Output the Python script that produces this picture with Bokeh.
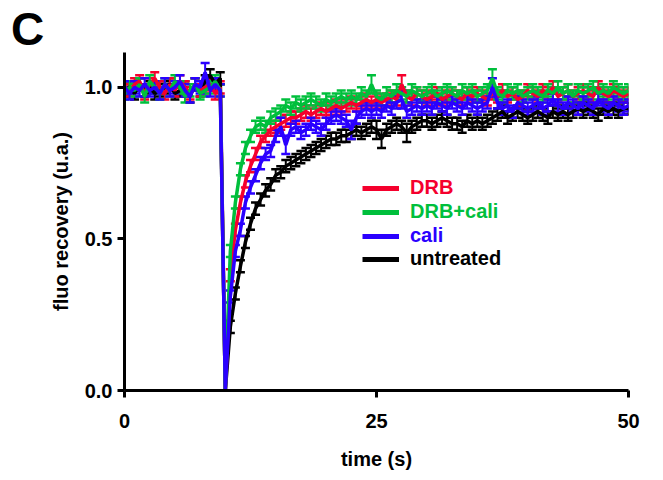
from bokeh.plotting import figure
from bokeh.layouts import column
from bokeh.models import (ColumnDataSource, Whisker, TeeHead, Range1d, FixedTicker,
                          NumeralTickFormatter, Legend, LegendItem, Div)
from bokeh.embed import file_html
from bokeh.resources import INLINE

# ---------------- data ----------------
time_s = [i * 0.5 for i in range(101)]  # 0 .. 50 s, 0.5 s frames

untreated = [
    0.99, 1.00, 0.98, 1.01, 0.99, 1.00, 0.98, 0.99, 1.00, 1.01,
    0.98, 0.99, 1.00, 0.97, 1.01, 0.99, 1.02, 1.04, 1.01, 1.03,
    0.00,
    0.21, 0.32, 0.41, 0.49, 0.55, 0.60, 0.63, 0.66, 0.68, 0.71,
    0.72, 0.74, 0.75, 0.76, 0.77, 0.78, 0.79, 0.80, 0.81, 0.82,
    0.83, 0.83, 0.84, 0.84, 0.85, 0.86, 0.85, 0.86, 0.87, 0.86,
    0.83, 0.86, 0.87, 0.88, 0.87, 0.85, 0.87, 0.88, 0.89, 0.89,
    0.88, 0.89, 0.90, 0.89, 0.88, 0.88, 0.87, 0.89, 0.88, 0.89,
    0.88, 0.89, 0.90, 0.91, 0.92, 0.90, 0.91, 0.92, 0.91, 0.90,
    0.91, 0.92, 0.91, 0.90, 0.92, 0.91, 0.92, 0.91, 0.92, 0.93,
    0.92, 0.93, 0.92, 0.91, 0.93, 0.92, 0.93, 0.92, 0.93, 0.93,
]
untreated_err = [
    0.02, 0.02, 0.02, 0.02, 0.02, 0.02, 0.02, 0.02, 0.02, 0.02,
    0.02, 0.02, 0.02, 0.02, 0.02, 0.02, 0.02, 0.02, 0.02, 0.02,
    0.00,
    0.02, 0.02, 0.02, 0.02, 0.02, 0.02, 0.02, 0.02, 0.02, 0.02,
    0.02, 0.02, 0.02, 0.02, 0.02, 0.02, 0.02, 0.02, 0.02, 0.02,
    0.02, 0.02, 0.02, 0.02, 0.02, 0.02, 0.02, 0.02, 0.02, 0.03,
    0.03, 0.02, 0.02, 0.02, 0.02, 0.03, 0.02, 0.02, 0.02, 0.02,
    0.02, 0.02, 0.02, 0.02, 0.02, 0.02, 0.02, 0.02, 0.02, 0.02,
    0.02, 0.02, 0.02, 0.02, 0.02, 0.02, 0.02, 0.02, 0.02, 0.02,
    0.02, 0.02, 0.02, 0.02, 0.02, 0.02, 0.02, 0.02, 0.02, 0.02,
    0.02, 0.02, 0.02, 0.02, 0.02, 0.02, 0.02, 0.02, 0.02, 0.02,
]

drb = [
    1.00, 0.99, 1.01, 1.02, 0.98, 1.01, 1.03, 1.00, 0.98, 1.01,
    0.99, 1.02, 1.00, 0.98, 1.01, 0.99, 1.00, 1.01, 0.98, 1.00,
    0.00,
    0.38, 0.53, 0.62, 0.69, 0.74, 0.78, 0.82, 0.84, 0.86, 0.87,
    0.88, 0.89, 0.90, 0.90, 0.91, 0.92, 0.91, 0.92, 0.93, 0.92,
    0.93, 0.94, 0.93, 0.94, 0.95, 0.94, 0.95, 0.96, 0.95, 0.96,
    0.95, 0.96, 0.97, 0.96, 1.01, 0.97, 0.96, 0.98, 0.97, 0.96,
    0.97, 0.98, 0.96, 0.97, 0.98, 0.97, 0.96, 0.98, 0.97, 0.98,
    0.97, 0.96, 0.98, 0.97, 0.99, 0.97, 0.98, 0.96, 0.97, 0.99,
    0.98, 0.97, 0.99, 0.98, 1.00, 0.97, 0.98, 0.99, 0.97, 0.98,
    0.99, 0.98, 0.97, 1.00, 0.98, 0.97, 0.99, 0.98, 0.97, 0.98,
]
drb_err = [
    0.02, 0.02, 0.02, 0.02, 0.02, 0.02, 0.02, 0.02, 0.02, 0.02,
    0.02, 0.02, 0.02, 0.02, 0.02, 0.02, 0.02, 0.02, 0.02, 0.02,
    0.00,
    0.02, 0.02, 0.02, 0.02, 0.02, 0.02, 0.02, 0.02, 0.02, 0.02,
    0.02, 0.02, 0.02, 0.02, 0.02, 0.02, 0.02, 0.02, 0.02, 0.02,
    0.02, 0.02, 0.02, 0.02, 0.02, 0.02, 0.02, 0.02, 0.02, 0.02,
    0.02, 0.02, 0.02, 0.02, 0.03, 0.02, 0.02, 0.02, 0.02, 0.02,
    0.02, 0.02, 0.02, 0.02, 0.02, 0.02, 0.02, 0.02, 0.02, 0.02,
    0.02, 0.02, 0.02, 0.02, 0.02, 0.02, 0.02, 0.02, 0.02, 0.02,
    0.02, 0.02, 0.02, 0.02, 0.02, 0.02, 0.02, 0.02, 0.02, 0.02,
    0.02, 0.02, 0.02, 0.02, 0.02, 0.02, 0.02, 0.02, 0.02, 0.02,
]

drb_cali = [
    0.98, 1.00, 0.99, 1.01, 0.97, 1.02, 1.00, 0.98, 1.01, 0.99,
    1.02, 1.00, 0.97, 0.99, 1.01, 0.98, 0.99, 1.00, 1.02, 0.99,
    0.00,
    0.46, 0.62, 0.73, 0.80, 0.84, 0.87, 0.88, 0.87, 0.90, 0.91,
    0.92, 0.94, 0.93, 0.95, 0.94, 0.95, 0.96, 0.95, 0.94, 0.96,
    0.95, 0.96, 0.97, 0.96, 0.97, 0.96, 0.98, 0.97, 1.01, 0.97,
    0.96, 0.98, 0.97, 0.99, 0.98, 0.97, 0.99, 0.98, 0.97, 0.98,
    0.99, 0.97, 0.98, 0.99, 0.98, 0.97, 0.99, 0.98, 0.99, 0.97,
    0.98, 0.99, 1.03, 0.98, 0.97, 0.99, 0.98, 0.99, 0.97, 0.98,
    0.99, 0.98, 0.97, 0.99, 0.98, 1.00, 0.98, 0.99, 0.97, 0.99,
    0.98, 0.99, 1.00, 0.98, 0.99, 0.98, 1.00, 0.99, 0.98, 0.99,
]
drb_cali_err = [
    0.02, 0.02, 0.02, 0.02, 0.02, 0.02, 0.02, 0.02, 0.02, 0.02,
    0.02, 0.02, 0.02, 0.02, 0.02, 0.02, 0.02, 0.02, 0.02, 0.02,
    0.00,
    0.02, 0.02, 0.02, 0.02, 0.02, 0.02, 0.02, 0.02, 0.02, 0.02,
    0.02, 0.02, 0.02, 0.02, 0.02, 0.02, 0.02, 0.02, 0.02, 0.02,
    0.02, 0.02, 0.02, 0.02, 0.02, 0.02, 0.02, 0.02, 0.03, 0.02,
    0.02, 0.02, 0.02, 0.02, 0.02, 0.02, 0.02, 0.02, 0.02, 0.02,
    0.02, 0.02, 0.02, 0.02, 0.02, 0.02, 0.02, 0.02, 0.02, 0.02,
    0.02, 0.02, 0.03, 0.02, 0.02, 0.02, 0.02, 0.02, 0.02, 0.02,
    0.02, 0.02, 0.02, 0.02, 0.02, 0.02, 0.02, 0.02, 0.02, 0.02,
    0.02, 0.02, 0.02, 0.02, 0.02, 0.02, 0.02, 0.02, 0.02, 0.02,
]

cali = [
    1.00, 0.98, 1.00, 0.99, 1.01, 0.99, 1.00, 0.98, 1.01, 0.99,
    1.00, 1.02, 0.99, 0.97, 1.01, 1.00, 1.05, 0.99, 1.01, 0.99,
    0.00,
    0.31, 0.46, 0.53, 0.62, 0.67, 0.71, 0.75, 0.78, 0.79, 0.84,
    0.87, 0.81, 0.86, 0.87, 0.85, 0.86, 0.88, 0.87, 0.86, 0.88,
    0.90, 0.91, 0.90, 0.89, 0.86, 0.90, 0.92, 0.93, 0.92, 0.93,
    0.92, 0.94, 0.93, 0.95, 0.96, 0.92, 0.93, 0.94, 0.93, 0.94,
    0.93, 0.95, 0.94, 0.93, 0.95, 0.94, 0.93, 0.95, 0.94, 0.93,
    0.94, 0.95, 1.00, 0.95, 0.93, 0.94, 0.92, 0.95, 0.94, 0.93,
    0.94, 0.95, 0.93, 0.94, 0.96, 0.94, 0.93, 0.95, 0.94, 0.93,
    0.95, 0.94, 0.93, 0.96, 0.94, 0.93, 0.95, 0.94, 0.93, 0.94,
]
cali_err = [
    0.02, 0.02, 0.02, 0.02, 0.02, 0.02, 0.02, 0.02, 0.02, 0.02,
    0.02, 0.02, 0.02, 0.02, 0.02, 0.02, 0.03, 0.02, 0.02, 0.02,
    0.00,
    0.02, 0.02, 0.02, 0.02, 0.02, 0.02, 0.02, 0.02, 0.02, 0.02,
    0.03, 0.03, 0.02, 0.02, 0.02, 0.02, 0.02, 0.02, 0.02, 0.02,
    0.02, 0.02, 0.02, 0.02, 0.03, 0.02, 0.02, 0.02, 0.02, 0.02,
    0.02, 0.02, 0.02, 0.02, 0.03, 0.02, 0.02, 0.02, 0.02, 0.02,
    0.02, 0.02, 0.02, 0.02, 0.02, 0.02, 0.02, 0.02, 0.02, 0.02,
    0.02, 0.02, 0.03, 0.02, 0.02, 0.02, 0.02, 0.02, 0.02, 0.02,
    0.02, 0.02, 0.02, 0.02, 0.02, 0.02, 0.02, 0.02, 0.02, 0.02,
    0.02, 0.02, 0.02, 0.02, 0.02, 0.02, 0.02, 0.02, 0.02, 0.02,
]

series_names = ["DRB", "DRB+cali", "cali", "untreated"]
x_ticks = [0, 25, 50]
y_ticks = [0.0, 0.5, 1.0]

# ---------------- styling ----------------
FONT = "Liberation Sans"
colors = {"DRB": "#f5002d", "DRB+cali": "#00bf3c", "cali": "#2a00ff", "untreated": "#000000"}
values = {"DRB": (drb, drb_err), "DRB+cali": (drb_cali, drb_cali_err),
          "cali": (cali, cali_err), "untreated": (untreated, untreated_err)}

p = figure(width=663, height=420, output_backend="svg", toolbar_location=None,
           x_range=Range1d(0, 50), y_range=Range1d(0, 1.115),
           min_border_left=124, min_border_right=35, min_border_top=0, min_border_bottom=80)
p.outline_line_color = None
p.grid.visible = False
p.background_fill_color = "white"

for ax in (p.xaxis[0], p.yaxis[0]):
    ax.axis_line_width = 3
    ax.major_tick_line_width = 3
    ax.major_tick_out = 7
    ax.major_tick_in = 0
    ax.minor_tick_line_color = None
    ax.major_label_text_font = FONT
    ax.major_label_text_font_style = "bold"
    ax.major_label_text_font_size = "20px"
    ax.major_label_text_color = "black"
    ax.axis_label_text_font = FONT
    ax.axis_label_text_font_style = "bold"
    ax.axis_label_text_font_size = "20px"
    ax.axis_label_text_color = "black"

p.xaxis.ticker = FixedTicker(ticks=x_ticks)
p.yaxis.ticker = FixedTicker(ticks=y_ticks)
p.yaxis.formatter = NumeralTickFormatter(format="0.0")
p.xaxis.axis_label = "time (s)"
p.yaxis.axis_label = "fluo recovery (u.a.)"
p.xaxis.major_label_standoff = 16
p.yaxis.major_label_standoff = 5
p.xaxis.axis_label_standoff = 17
p.yaxis.axis_label_standoff = 10

nan = float("nan")
sources = {}
draw_order = ["untreated", "DRB", "DRB+cali", "cali"]
for name in draw_order:
    vals, errs = values[name]
    src = ColumnDataSource(dict(
        t=time_s, v=vals,
        hi=[a + b if b > 0 else nan for a, b in zip(vals, errs)],
        lo=[a - b if b > 0 else nan for a, b in zip(vals, errs)],
    ))
    sources[name] = src
    c = colors[name]
    p.line("t", "v", source=src, line_color=c, line_width=3.5)
    w = Whisker(base="t", upper="hi", lower="lo", source=src, dimension="height",
                line_color=c, line_width=2,
                upper_head=TeeHead(size=9, line_color=c, line_width=2.5),
                lower_head=TeeHead(size=9, line_color=c, line_width=2.5))
    p.add_layout(w)

# legends: one per entry so each label takes its series colour.
# Each entry uses a hidden, thicker copy of its series line as legend glyph.
leg_y = {"DRB": 191, "DRB+cali": 167, "cali": 143, "untreated": 120}
for name in series_names:
    c = colors[name]
    proxy = p.line("t", "v", source=sources[name], line_color=c, line_width=5,
                   visible=False)
    lg = Legend(items=[LegendItem(label=name, renderers=[proxy])],
                location=(238, leg_y[name]), orientation="vertical",
                padding=0, margin=0, spacing=0,
                glyph_width=37, glyph_height=20, label_standoff=11,
                label_text_font=FONT, label_text_font_style="bold",
                label_text_font_size="20px", label_text_color=c,
                inactive_fill_alpha=0,
                border_line_alpha=0, background_fill_alpha=0)
    p.add_layout(lg)

# panel letter
letter = Div(text="C", width=663, height=52, margin=0,
             styles={"font-family": FONT, "font-weight": "bold", "font-size": "46px",
                     "line-height": "46px", "padding-left": "11px", "padding-top": "6px",
                     "color": "black", "box-sizing": "border-box"})

layout = column(letter, p, spacing=0)
open("out.html", "w").write(file_html(layout, INLINE))
